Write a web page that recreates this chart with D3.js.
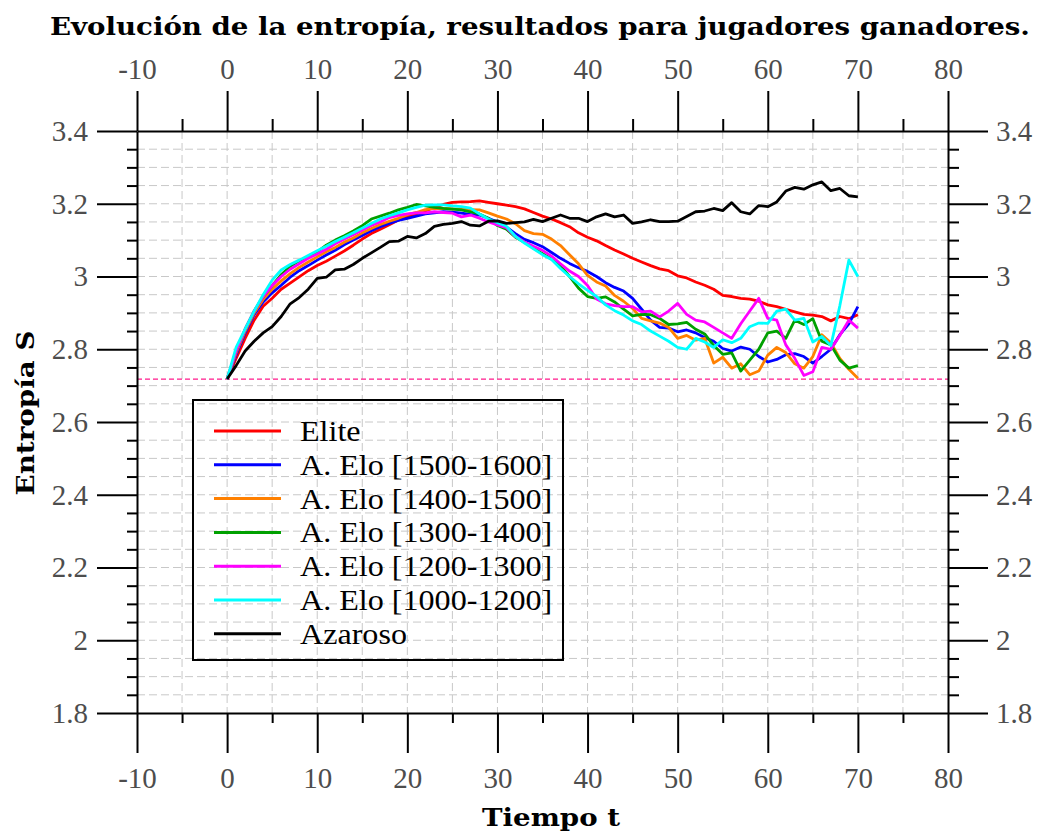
<!DOCTYPE html>
<html>
<head>
<meta charset="utf-8">
<script src="https://cdn.jsdelivr.net/npm/d3@7"></script>
<style>
  html, body { margin: 0; padding: 0; background: #fff; }
  svg { display: block; }
</style>
</head>
<body>
<script>
// ---------- DATA ----------
const time = [0,1,2,3,4,5,6,7,8,9,10,11,12,13,14,15,16,17,18,19,20,21,22,23,24,25,26,27,28,29,30,31,32,33,34,35,36,37,38,39,40,41,42,43,44,45,46,47,48,49,50,51,52,53,54,55,56,57,58,59,60,61,62,63,64,65,66,67,68,69,70];

const elite = [2.718,2.775,2.830,2.880,2.918,2.940,2.965,2.982,2.999,3.016,3.030,3.042,3.056,3.070,3.086,3.103,3.118,3.130,3.142,3.155,3.165,3.172,3.180,3.190,3.198,3.204,3.205,3.206,3.208,3.204,3.200,3.196,3.192,3.186,3.176,3.166,3.158,3.148,3.137,3.120,3.108,3.098,3.085,3.073,3.062,3.050,3.040,3.030,3.021,3.016,3.002,2.996,2.985,2.976,2.965,2.948,2.945,2.940,2.938,2.932,2.922,2.917,2.910,2.903,2.896,2.894,2.890,2.878,2.890,2.884,2.895];

const elo1500 = [2.718,2.785,2.845,2.895,2.930,2.955,2.976,2.998,3.016,3.030,3.045,3.059,3.072,3.087,3.100,3.113,3.126,3.137,3.146,3.154,3.160,3.166,3.172,3.175,3.178,3.177,3.174,3.171,3.169,3.160,3.150,3.136,3.118,3.102,3.093,3.082,3.066,3.050,3.036,3.024,3.014,3.000,2.983,2.970,2.960,2.940,2.910,2.880,2.860,2.858,2.848,2.853,2.845,2.832,2.822,2.802,2.795,2.806,2.800,2.780,2.765,2.772,2.785,2.788,2.780,2.762,2.780,2.800,2.840,2.870,2.917];

const elo1400 = [2.718,2.790,2.850,2.900,2.937,2.965,2.988,3.008,3.025,3.040,3.054,3.068,3.080,3.094,3.106,3.120,3.132,3.143,3.152,3.160,3.170,3.176,3.184,3.187,3.187,3.186,3.185,3.184,3.183,3.175,3.166,3.158,3.145,3.126,3.118,3.116,3.103,3.085,3.060,3.035,3.003,2.985,2.974,2.948,2.932,2.912,2.885,2.878,2.872,2.860,2.830,2.838,2.825,2.830,2.762,2.778,2.748,2.760,2.730,2.740,2.784,2.805,2.791,2.760,2.748,2.780,2.840,2.818,2.775,2.745,2.720];

const elo1300 = [2.718,2.795,2.855,2.905,2.945,2.975,3.005,3.028,3.043,3.055,3.068,3.086,3.100,3.112,3.125,3.140,3.158,3.166,3.174,3.183,3.190,3.198,3.194,3.190,3.187,3.185,3.183,3.178,3.172,3.160,3.140,3.130,3.108,3.094,3.078,3.063,3.048,3.030,3.000,2.968,2.945,2.940,2.944,2.930,2.910,2.892,2.896,2.895,2.885,2.868,2.870,2.874,2.855,2.842,2.810,2.786,2.790,2.740,2.770,2.800,2.845,2.850,2.830,2.880,2.868,2.884,2.822,2.812,2.770,2.748,2.755];

const elo1200 = [2.718,2.795,2.855,2.905,2.945,2.975,3.000,3.020,3.035,3.050,3.062,3.075,3.090,3.103,3.115,3.128,3.140,3.150,3.162,3.168,3.172,3.175,3.175,3.178,3.176,3.174,3.164,3.169,3.160,3.150,3.142,3.134,3.110,3.095,3.083,3.072,3.056,3.035,3.015,3.000,2.975,2.938,2.925,2.920,2.917,2.917,2.903,2.905,2.889,2.905,2.926,2.896,2.880,2.875,2.860,2.845,2.830,2.870,2.905,2.940,2.885,2.880,2.812,2.775,2.728,2.738,2.805,2.800,2.838,2.880,2.858];

const elo1000 = [2.718,2.805,2.855,2.905,2.950,2.990,3.018,3.033,3.045,3.058,3.071,3.083,3.096,3.108,3.120,3.133,3.146,3.158,3.167,3.175,3.183,3.190,3.196,3.197,3.197,3.194,3.192,3.188,3.172,3.158,3.148,3.138,3.110,3.092,3.076,3.060,3.047,3.022,3.000,2.980,2.962,2.945,2.922,2.906,2.894,2.878,2.868,2.850,2.836,2.822,2.805,2.800,2.830,2.820,2.805,2.826,2.818,2.830,2.862,2.872,2.871,2.905,2.910,2.880,2.885,2.820,2.835,2.810,2.920,3.045,3.000];

const azaroso = [2.718,2.755,2.795,2.822,2.845,2.862,2.890,2.925,2.942,2.965,2.995,2.998,3.018,3.020,3.033,3.050,3.065,3.080,3.096,3.097,3.110,3.106,3.118,3.138,3.143,3.146,3.151,3.141,3.139,3.152,3.153,3.146,3.148,3.150,3.157,3.151,3.160,3.169,3.160,3.160,3.151,3.164,3.172,3.164,3.169,3.146,3.150,3.156,3.151,3.151,3.152,3.165,3.178,3.180,3.187,3.181,3.203,3.178,3.172,3.195,3.192,3.205,3.235,3.245,3.240,3.252,3.260,3.236,3.242,3.222,3.219];

const seriesNames = ["Elite","A. Elo [1500-1600]","A. Elo [1400-1500]","A. Elo [1300-1400]","A. Elo [1200-1300]","A. Elo [1000-1200]","Azaroso"];
const seriesColors = ["#ff0000","#0000ff","#ff8000","#00a000","#ff00ff","#00ffff","#000000"];
const seriesValues = [elite, elo1500, elo1400, elo1300, elo1200, elo1000, azaroso];

const refLevel = 2.718;

const xMajorTicks = [-10,0,10,20,30,40,50,60,70,80];
const xMinorTicks = [-5,5,15,25,35,45,55,65,75];
const xTickLabels = ["-10","0","10","20","30","40","50","60","70","80"];
const yMajorTicks = [1.8,2.0,2.2,2.4,2.6,2.8,3.0,3.2,3.4];
const yMinorTicks = [1.85,1.9,1.95,2.05,2.1,2.15,2.25,2.3,2.35,2.45,2.5,2.55,2.65,2.7,2.75,2.85,2.9,2.95,3.05,3.1,3.15,3.25,3.3,3.35];
const yTickLabels = ["1.8","2","2.2","2.4","2.6","2.8","3","3.2","3.4"];

const titleText = "Evolución de la entropía, resultados para jugadores ganadores.";
const xLabelText = "Tiempo t";
const yLabelText = "Entropía S";

// ---------- CHART ----------
(function () {
const W = 1044, H = 834;
const pL = 137, pR = 948, pT = 131, pB = 713;

const svg = d3.select("body").append("svg").attr("width", W).attr("height", H)
  .style("background", "#fff");

const x = d3.scaleLinear().domain([-10, 80]).range([pL, pR]);
const y = d3.scaleLinear().domain([1.8, 3.4]).range([pB, pT]);

const tickFont = "'Liberation Serif', 'DejaVu Serif', serif";
const boldFont = "'DejaVu Serif', 'Liberation Serif', serif";

// grid
const grid = svg.append("g").attr("stroke", "#c8c8c8").attr("stroke-width", 1)
  .attr("stroke-dasharray", "8,4").attr("fill", "none");
const gxVals = xMajorTicks.concat(xMinorTicks).filter(v => v > -10 && v < 80);
grid.selectAll("line.gx").data(gxVals).join("line").attr("class", "gx")
  .attr("x1", d => x(d)).attr("x2", d => x(d)).attr("y1", pT).attr("y2", pB);
const gyVals = yMajorTicks.concat(yMinorTicks).filter(v => v > 1.8 && v < 3.4);
grid.selectAll("line.gy").data(gyVals).join("line").attr("class", "gy")
  .attr("y1", d => y(d)).attr("y2", d => y(d)).attr("x1", pL).attr("x2", pR);

// reference dashed line
svg.append("line")
  .attr("x1", x(-10)).attr("x2", x(80)).attr("y1", y(refLevel)).attr("y2", y(refLevel))
  .attr("stroke", "#ff1a8c").attr("stroke-width", 1.2).attr("stroke-dasharray", "5,3");

// series lines
const line = d3.line().x((d, i) => x(time[i])).y(d => y(d));
seriesValues.forEach((vals, k) => {
  svg.append("path").datum(vals)
    .attr("d", line)
    .attr("fill", "none")
    .attr("stroke", seriesColors[k])
    .attr("stroke-width", 2.8)
    .attr("stroke-linejoin", "round");
});

function styleAxis(g) {
  g.selectAll("path.domain").attr("stroke", "#000").attr("stroke-width", 2);
  g.selectAll(".tick line").attr("stroke", "#000").attr("stroke-width", 2);
  g.selectAll(".tick text").attr("font-family", tickFont).attr("font-size", 29).attr("fill", "#4d4d4d");
}
const xFmt = (d, i) => xTickLabels[i];
const yFmt = (d, i) => yTickLabels[i];

// bottom
const axB = svg.append("g").attr("transform", `translate(0,${pB})`)
  .call(d3.axisBottom(x).tickValues(xMajorTicks).tickSize(40).tickSizeOuter(0).tickPadding(14).tickFormat(xFmt));
styleAxis(axB);
const axBm = svg.append("g").attr("transform", `translate(0,${pB})`)
  .call(d3.axisBottom(x).tickValues(xMinorTicks).tickSize(10).tickSizeOuter(0).tickFormat(""));
axBm.select("path.domain").remove(); styleAxis(axBm);

// top
const axT = svg.append("g").attr("transform", `translate(0,${pT})`)
  .call(d3.axisTop(x).tickValues(xMajorTicks).tickSize(40).tickSizeOuter(0).tickPadding(12).tickFormat(xFmt));
styleAxis(axT);
const axTm = svg.append("g").attr("transform", `translate(0,${pT})`)
  .call(d3.axisTop(x).tickValues(xMinorTicks).tickSize(12).tickSizeOuter(0).tickFormat(""));
axTm.select("path.domain").remove(); styleAxis(axTm);

// left
const axL = svg.append("g").attr("transform", `translate(${pL},0)`)
  .call(d3.axisLeft(y).tickValues(yMajorTicks).tickSize(40).tickSizeOuter(0).tickPadding(9).tickFormat(yFmt));
styleAxis(axL);
const axLm = svg.append("g").attr("transform", `translate(${pL},0)`)
  .call(d3.axisLeft(y).tickValues(yMinorTicks).tickSize(10).tickSizeOuter(0).tickFormat(""));
axLm.select("path.domain").remove(); styleAxis(axLm);

// right
const axR = svg.append("g").attr("transform", `translate(${pR},0)`)
  .call(d3.axisRight(y).tickValues(yMajorTicks).tickSize(40).tickSizeOuter(0).tickPadding(8).tickFormat(yFmt));
styleAxis(axR);
const axRm = svg.append("g").attr("transform", `translate(${pR},0)`)
  .call(d3.axisRight(y).tickValues(yMinorTicks).tickSize(11).tickSizeOuter(0).tickFormat(""));
axRm.select("path.domain").remove(); styleAxis(axRm);

// titles
svg.append("text").attr("x", 540).attr("y", 35).attr("text-anchor", "middle")
  .attr("font-family", boldFont).attr("font-weight", "bold").attr("font-size", 24)
  .attr("textLength", 980).attr("lengthAdjust", "spacingAndGlyphs")
  .text(titleText);

svg.append("text").attr("x", 551).attr("y", 826).attr("text-anchor", "middle")
  .attr("font-family", boldFont).attr("font-weight", "bold").attr("font-size", 24)
  .attr("textLength", 138).attr("lengthAdjust", "spacingAndGlyphs")
  .text(xLabelText);

svg.append("text")
  .attr("transform", `translate(34,413) rotate(-90)`)
  .attr("text-anchor", "middle")
  .attr("font-family", boldFont).attr("font-weight", "bold").attr("font-size", 25)
  .attr("textLength", 165).attr("lengthAdjust", "spacingAndGlyphs")
  .text(yLabelText);

// legend
const lg = svg.append("g");
lg.append("rect").attr("x", 193).attr("y", 400).attr("width", 370).attr("height", 260)
  .attr("fill", "none").attr("stroke", "#000").attr("stroke-width", 2);
seriesNames.forEach((name, k) => {
  const yy = 431 + k * 33.8;
  lg.append("line").attr("x1", 214).attr("x2", 281).attr("y1", yy).attr("y2", yy)
    .attr("stroke", seriesColors[k]).attr("stroke-width", 3);
  const t = lg.append("text").attr("x", 300).attr("y", yy + 10)
    .attr("font-family", tickFont).attr("font-size", 30).attr("fill", "#000")
    .text(name);
  const natural = t.node().getComputedTextLength();
  t.attr("textLength", natural * 1.07).attr("lengthAdjust", "spacingAndGlyphs");
});
})();
</script>
</body>
</html>
